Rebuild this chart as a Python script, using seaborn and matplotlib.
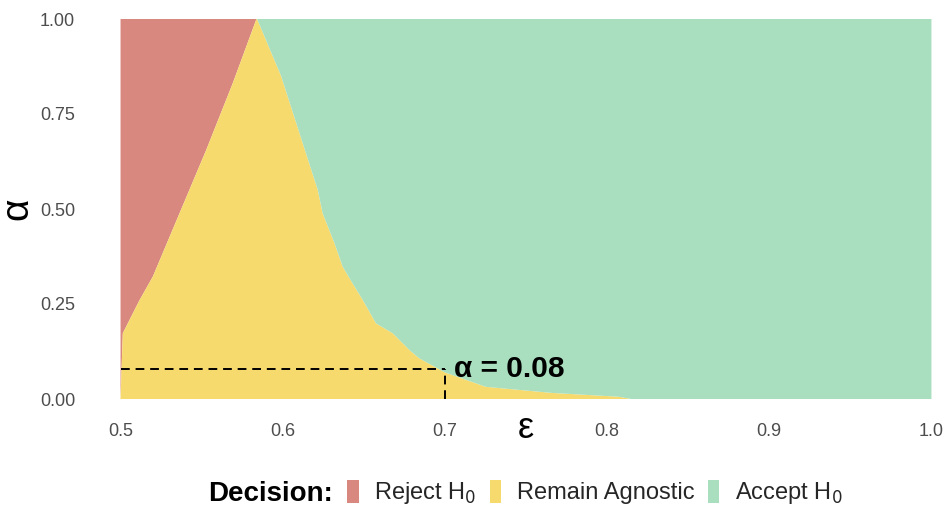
import numpy as np
import matplotlib
matplotlib.use("Agg")
import matplotlib.pyplot as plt
from matplotlib.patches import Patch
import seaborn as sns

# boundary between "Reject" and "Remain Agnostic"
reject_alpha = [0.0, 0.173, 0.26, 0.322, 0.489, 0.655, 0.831, 1.0]
reject_eps = [0.5, 0.5014, 0.5117, 0.5199, 0.5364, 0.5528, 0.5692, 0.5838]

# boundary between "Remain Agnostic" and "Accept"
accept_alpha = [1.0, 0.85, 0.70, 0.55, 0.489, 0.41, 0.348, 0.304, 0.261,
                0.199, 0.173, 0.129, 0.107, 0.07, 0.032, 0.016, 0.006, 0.0]
accept_eps = [0.5842, 0.599, 0.6103, 0.6216, 0.6246, 0.6319, 0.637, 0.6431,
              0.6493, 0.6575, 0.6678, 0.6781, 0.6842, 0.700, 0.7253, 0.766,
              0.807, 0.815]

eps_range = [0.5, 1.0]
alpha_range = [0.0, 1.0]

eps_star = 0.7
alpha_star = 0.08

decisions = ["Reject H$_0$", "Remain Agnostic", "Accept H$_0$"]
colors = ["#D9887F", "#F7DA6E", "#A9DFBF"]

x_ticks = [0.5, 0.6, 0.7, 0.8, 0.9, 1.0]
x_labels = ["0.5", "0.6", "0.7", "0.8", "0.9", "1.0"]
y_ticks = [0.0, 0.25, 0.5, 0.75, 1.0]
y_labels = ["0.00", "0.25", "0.50", "0.75", "1.00"]

sns.set_theme(style="white")
plt.rcParams["font.family"] = ["Liberation Sans", "DejaVu Sans"]

fig = plt.figure(figsize=(9.46, 5.08), dpi=100)
# panel with the usual 5% padding around the data
ax = fig.add_axes([80 / 946, 1 - 418 / 508, 892 / 946, 418 / 508])

# reject region: left edge -> reject boundary
ax.fill(
    [eps_range[0]] + reject_eps + [eps_range[0]],
    [alpha_range[0]] + reject_alpha + [alpha_range[1]],
    color=colors[0], lw=0,
)
# agnostic region: between the two boundaries
ax.fill(
    reject_eps + accept_eps,
    reject_alpha + accept_alpha,
    color=colors[1], lw=0,
)
# accept region: accept boundary -> right edge
ax.fill(
    accept_eps + [eps_range[1], eps_range[1]],
    accept_alpha + [alpha_range[0], alpha_range[1]],
    color=colors[2], lw=0,
)

# dashed guide lines
dash = (0, (4.5, 3))
sns.lineplot(x=[eps_range[0], eps_star], y=[alpha_star, alpha_star], ax=ax,
             color="black", lw=1.4, estimator=None, sort=False, linestyle=dash)
sns.lineplot(x=[eps_star, eps_star], y=[alpha_range[0], alpha_star], ax=ax,
             color="black", lw=1.4, estimator=None, sort=False, linestyle=dash)
ax.text(eps_star + 0.0058, alpha_star, "\u03b1 = 0.08", fontsize=21.5,
        fontweight="bold", ha="left", va="center", color="black")

ax.set_xlim(0.475, 1.025)
ax.set_ylim(-0.05, 1.05)
ax.set_xticks(x_ticks)
ax.set_xticklabels(x_labels)
ax.set_yticks(y_ticks)
ax.set_yticklabels(y_labels)
ax.tick_params(axis="both", labelsize=13, labelcolor="#4D4D4D", color="#999999",
               length=2, width=0.6, direction="out", pad=1.5)
for s in ax.spines.values():
    s.set_visible(False)
ax.grid(False)

ax.set_xlabel("\u03b5", fontsize=26, color="black", labelpad=-21)
ax.set_ylabel("\u03b1", fontsize=28, color="black", labelpad=3)

# legend at the bottom
fig.text(208 / 946, 1 - 494 / 508, "Decision:", fontsize=20, fontweight="bold",
         ha="left", va="center", color="black")
handles = [Patch(facecolor=c, edgecolor="none", label=l)
           for c, l in zip(colors, decisions)]
fig.legend(handles=handles, loc="center left",
           bbox_to_anchor=(347 / 946, 1 - 493 / 508), ncol=3, frameon=False,
           fontsize=17, handlelength=0.5, handleheight=1.15,
           handletextpad=0.66, columnspacing=0.55, borderpad=0, borderaxespad=0)

fig.savefig("out.png", dpi=100)
